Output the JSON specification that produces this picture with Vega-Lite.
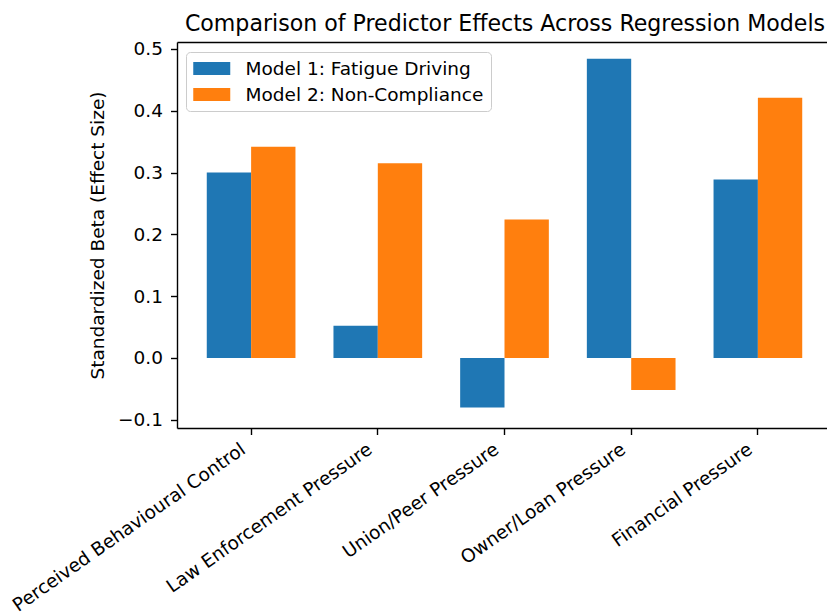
{
  "$schema": "https://vega.github.io/schema/vega-lite/v6.json",
  "width": 650,
  "height": 386,
  "autosize": {"type": "none"},
  "padding": {"left": 177, "top": 42, "right": 0, "bottom": 187},
  "background": "white",
  "config": {
    "font": "DejaVu Sans",
    "view": {"stroke": null},
    "axis": {"labelFont": "DejaVu Sans", "titleFont": "DejaVu Sans", "labelColor": "#000", "titleColor": "#000", "domainColor": "#000", "tickColor": "#000", "domainWidth": 1.4, "tickWidth": 1.4, "tickSize": 6.5, "labelFontSize": 18.5, "titleFontSize": 18.5, "titleFontWeight": "normal", "grid": false}
  },
  "data": {"values": [
    {"predictor": "Perceived Behavioural Control", "model": "Model 1: Fatigue Driving", "beta": 0.300},
    {"predictor": "Perceived Behavioural Control", "model": "Model 2: Non-Compliance", "beta": 0.342},
    {"predictor": "Law Enforcement Pressure", "model": "Model 1: Fatigue Driving", "beta": 0.052},
    {"predictor": "Law Enforcement Pressure", "model": "Model 2: Non-Compliance", "beta": 0.315},
    {"predictor": "Union/Peer Pressure", "model": "Model 1: Fatigue Driving", "beta": -0.080},
    {"predictor": "Union/Peer Pressure", "model": "Model 2: Non-Compliance", "beta": 0.224},
    {"predictor": "Owner/Loan Pressure", "model": "Model 1: Fatigue Driving", "beta": 0.484},
    {"predictor": "Owner/Loan Pressure", "model": "Model 2: Non-Compliance", "beta": -0.052},
    {"predictor": "Financial Pressure", "model": "Model 1: Fatigue Driving", "beta": 0.289},
    {"predictor": "Financial Pressure", "model": "Model 2: Non-Compliance", "beta": 0.421}
  ]},
  "layer": [
    {
      "mark": {"type": "bar"},
      "encoding": {
        "x": {"field": "predictor", "type": "nominal", "sort": null,
              "scale": {"range": [0, 655], "paddingInner": 0.3, "paddingOuter": 0.235},
              "axis": {"title": null, "orient": "bottom", "labelAngle": -35, "labelAlign": "right", "labelBaseline": "top", "labelOffset": -13, "labelPadding": 5, "labelLimit": 0}},
        "xOffset": {"field": "model", "type": "nominal", "sort": null},
        "y": {"field": "beta", "type": "quantitative",
              "scale": {"domain": [-0.1133, 0.5113], "nice": false, "zero": false},
              "axis": {"title": "Standardized Beta (Effect Size)", "values": [-0.1, 0, 0.1, 0.2, 0.3, 0.4, 0.5], "labelExpr": "replace(format(datum.value, '.1f'), '-', '\u2212')", "labelPadding": 8, "titlePadding": 10}},
        "color": {"field": "model", "type": "nominal", "sort": null,
                  "scale": {"range": ["#1f77b4", "#ff7f0e"]},
                  "legend": {"title": null, "orient": "none", "legendX": 9, "legendY": 10,
                             "symbolType": "M-1,-0.7L3,-0.7L3,0.7L-1,0.7Z", "symbolSize": 342.25, "symbolStrokeWidth": 0,
                             "labelFontSize": 18.5, "labelFont": "DejaVu Sans", "labelColor": "#000", "labelOffset": 33.5, "rowPadding": 7,
                             "padding": 7, "strokeColor": "#cccccc", "fillColor": "rgba(255,255,255,0.8)", "cornerRadius": 4, "labelLimit": 0}}
      }
    },
    {
      "mark": {"type": "bar", "opacity": 0},
      "encoding": {
        "x": {"field": "predictor", "type": "nominal", "sort": null,
              "axis": {"title": "Comparison of Predictor Effects Across Regression Models", "titleFontSize": 22.1, "titlePadding": 7, "orient": "top", "labels": false, "ticks": false, "domain": true}},
        "y": {"field": "beta", "type": "quantitative"}
      }
    }
  ],
  "resolve": {"axis": {"x": "independent"}}
}
